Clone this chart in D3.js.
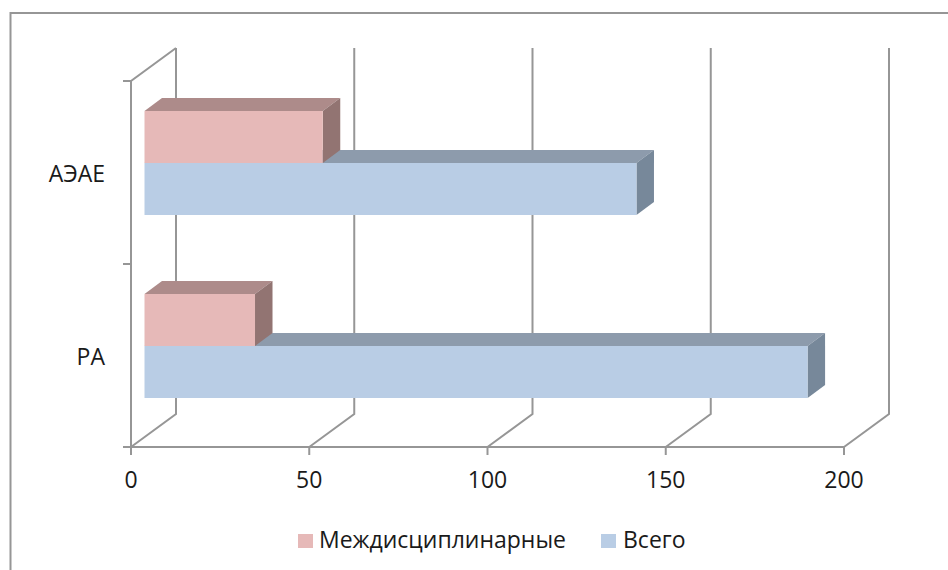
<!DOCTYPE html>
<html>
<head>
<meta charset="utf-8">
<script src="https://cdnjs.cloudflare.com/ajax/libs/d3/7.8.5/d3.min.js"></script>
<style>
  html, body { margin: 0; padding: 0; background: #fff; }
  text { font-family: "Open Sans", Lato, sans-serif; font-size: 23px; fill: #1a1a1a; }
</style>
</head>
<body>
<div class="chart"></div>
<script>
var categories = ["РА", "АЭАЕ"];
var seriesNames = ["Всего", "Междисциплинарные"];
var totalValues = [186, 138];
var interValues = [31, 50];
var xTicks = [0, 50, 100, 150, 200];

var svgWidth = 948;
var svgHeight = 570;

var gridColor = "#969696";
var barColors = {
  "Всего": { front: "#b9cde5", top: "#8d9bac", side: "#77889a" },
  "Междисциплинарные": { front: "#e6b9b8", top: "#ad8b8a", side: "#927472" }
};

// plot floor corners, depth goes up and to the right
var plot = { left: 131, right: 844, top: 81, bottom: 447 };
var depthX = 45, depthY = -33;
// bars sit partway into the depth
var barOffX = 13.5, barOffY = -9.5, barDepthX = 17.5, barDepthY = -13;
var barHeight = 52;

var svg = d3.select(".chart")
  .append("svg")
  .attr("width", svgWidth)
  .attr("height", svgHeight)
  .style("display", "block");

var xScale = d3.scaleLinear().domain([0, 200]).range([plot.left, plot.right]);
var yScale = d3.scaleBand().domain(categories).range([plot.bottom, plot.top]);

// outer frame of the pasted chart, cut off on the right
svg.append("path")
  .attr("d", "M10.5,570V13H948")
  .attr("fill", "none")
  .attr("stroke", gridColor)
  .attr("stroke-width", 2);

var grid = svg.append("g").attr("fill", "none").attr("stroke", gridColor).attr("stroke-width", 2);

// gridlines run along the floor then up the back wall
xTicks.forEach(function(t) {
  var x = xScale(t);
  grid.append("path")
    .attr("d", "M" + x + "," + plot.bottom + "L" + (x + depthX) + "," + (plot.bottom + depthY) + "V" + (plot.top + depthY));
});

// side wall
grid.append("path")
  .attr("d", "M" + plot.left + "," + plot.bottom + "V" + plot.top + "L" + (plot.left + depthX) + "," + (plot.top + depthY));

// axes and ticks
grid.append("path")
  .attr("d", "M" + plot.left + "," + plot.bottom + "H" + plot.right);
xTicks.forEach(function(t) {
  grid.append("path").attr("d", "M" + xScale(t) + "," + plot.bottom + "v8");
});
var yEdges = [plot.bottom, plot.bottom - yScale.bandwidth(), plot.top];
yEdges.forEach(function(y) {
  grid.append("path").attr("d", "M" + (plot.left - 8) + "," + y + "h8");
});

function drawBar(cat, value, series, yFront) {
  var colors = barColors[series];
  var x0 = xScale(0) + barOffX;
  var x1 = xScale(value) + barOffX;
  var g = svg.append("g");
  g.append("polygon")
    .attr("points", [[x0, yFront], [x0 + barDepthX, yFront + barDepthY], [x1 + barDepthX, yFront + barDepthY], [x1, yFront]].join(" "))
    .attr("fill", colors.top);
  g.append("polygon")
    .attr("points", [[x1, yFront], [x1 + barDepthX, yFront + barDepthY], [x1 + barDepthX, yFront + barHeight + barDepthY], [x1, yFront + barHeight]].join(" "))
    .attr("fill", colors.side);
  g.append("rect")
    .attr("x", x0)
    .attr("y", yFront)
    .attr("width", x1 - x0)
    .attr("height", barHeight)
    .attr("fill", colors.front);
}

// lower category first so upper bars are not covered
categories.forEach(function(cat, i) {
  var mid = yScale(cat) + yScale.bandwidth() / 2 + barOffY;
  drawBar(cat, totalValues[i], "Всего", mid);
  drawBar(cat, interValues[i], "Междисциплинарные", mid - barHeight);
});

// labels
svg.selectAll(".x-label")
  .data(xTicks)
  .enter()
  .append("text")
  .attr("class", "x-label")
  .attr("x", function(d) { return xScale(d); })
  .attr("y", 488)
  .attr("text-anchor", "middle")
  .text(function(d) { return d; });

svg.selectAll(".y-label")
  .data(categories)
  .enter()
  .append("text")
  .attr("class", "y-label")
  .attr("x", 105)
  .attr("y", function(d) { return yScale(d) + yScale.bandwidth() / 2 + 9.5; })
  .attr("text-anchor", "end")
  .text(function(d) { return d; });

// legend
var legendItems = [
  { name: seriesNames[1], box: 298, label: 319 },
  { name: seriesNames[0], box: 601, label: 623 }
];
legendItems.forEach(function(item) {
  svg.append("rect")
    .attr("x", item.box)
    .attr("y", 534)
    .attr("width", 15)
    .attr("height", 14)
    .attr("fill", barColors[item.name].front);
  svg.append("text")
    .attr("x", item.label)
    .attr("y", 548)
    .text(item.name);
});
</script>
</body>
</html>
